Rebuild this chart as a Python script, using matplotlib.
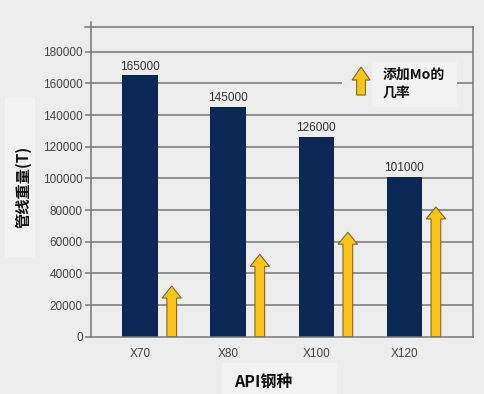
import matplotlib
matplotlib.use("Agg")
import matplotlib.pyplot as plt
from matplotlib.patches import Rectangle, FancyArrow
import numpy as np

categories = ["X70", "X80", "X100", "X120"]
weights = [165000, 145000, 126000, 101000]
mo_likelihood = [32000, 52000, 66000, 82000]
yticks = [0, 20000, 40000, 60000, 80000, 100000, 120000, 140000, 160000, 180000]

plt.rcParams['font.family'] = ['Liberation Sans', 'Noto Sans CJK SC', 'DejaVu Sans']
cjk = ['Noto Sans CJK SC', 'DejaVu Sans']

BG = '#ededed'
LIGHT = '#f3f3f3'
GRID = '#777777'
NAVY = '#0b2855'
GOLD = '#fcc419'
GOLD_EDGE = '#7d6a2a'

fig = plt.figure(figsize=(4.85, 3.94), dpi=100, facecolor=BG)
ax = fig.add_axes([0.1876, 0.1454, 0.7874, 0.7998])
ax.set_facecolor(BG)

x = np.arange(len(categories))
ax.set_xlim(-0.557, 3.78)
ax.set_ylim(0, 199000)

for yv in yticks[1:]:
    ax.axhline(yv, color=GRID, lw=1.1, zorder=1)
# top frame line
ax.plot([-0.62, 3.78], [195500, 195500], color=GRID, lw=1.1, clip_on=False, zorder=1)

bars = ax.bar(x, weights, width=0.40, color=NAVY, zorder=3)
for xi, w in zip(x, weights):
    ax.annotate(f"{w}", (xi, w), xytext=(0, 2), textcoords='offset points',
                ha='center', va='bottom', fontsize=8.5, color='#333333')

for xi, h in zip(x, mo_likelihood):
    arr = FancyArrow(xi + 0.36, 0, 0, h, width=0.11, head_width=0.22,
                     head_length=7600, length_includes_head=True,
                     facecolor=GOLD, edgecolor=GOLD_EDGE, lw=0.8, zorder=4)
    ax.add_patch(arr)

# legend
ax.add_patch(Rectangle((2.295, 145100), 3.60 - 2.295, 173600 - 145100,
                       facecolor=BG, edgecolor='none', zorder=2))
ax.add_patch(Rectangle((2.636, 145100), 3.60 - 2.636, 173600 - 145100,
                       facecolor=LIGHT, edgecolor='none', zorder=2))
ax.add_patch(FancyArrow(2.51, 152600, 0, 170300 - 152600, width=0.10, head_width=0.205,
                        head_length=8200, length_includes_head=True,
                        facecolor=GOLD, edgecolor=GOLD_EDGE, lw=0.8, zorder=4))
ax.text(2.76, 159300, "添加Mo的\n几率", family=cjk, fontweight='bold', fontsize=10,
        va='center', ha='left', linespacing=1.45, color='#111111', zorder=5)

# spines
for s in ['top']:
    ax.spines[s].set_visible(False)
ax.spines['right'].set_bounds(0, 195500)
for s in ['left', 'right', 'bottom']:
    ax.spines[s].set_color(GRID)
    ax.spines[s].set_linewidth(1.1)
ax.spines['bottom'].set_zorder(5)

ax.set_yticks(yticks)
ax.set_yticklabels([str(v) for v in yticks])
ax.set_xticks(x)
ax.set_xticklabels(categories)
ax.tick_params(axis='y', length=4, width=1.1, color=GRID, labelsize=8.5, labelcolor='#444444', pad=2)
ax.tick_params(axis='x', length=0, labelsize=8.5, labelcolor='#444444', pad=8)

# axis label boxes
fig.patches.append(Rectangle((5 / 485, 1 - 257 / 394), 30 / 485, 160 / 394,
                             transform=fig.transFigure, facecolor=LIGHT, edgecolor='none'))
fig.patches.append(Rectangle((222 / 485, 0), 115 / 485, 31 / 394,
                             transform=fig.transFigure, facecolor=LIGHT, edgecolor='none'))
fig.text(23 / 485, 1 - 187 / 394, "管线重量(T)", rotation=90, family=cjk, fontweight='bold',
         fontsize=11, ha='center', va='center', color='#111111')
fig.text(263 / 485, 1 - 382 / 394, "API钢种", family=cjk, fontweight='bold',
         fontsize=11.5, ha='center', va='center', color='#111111')

fig.savefig("out.png", dpi=100, facecolor=BG)
